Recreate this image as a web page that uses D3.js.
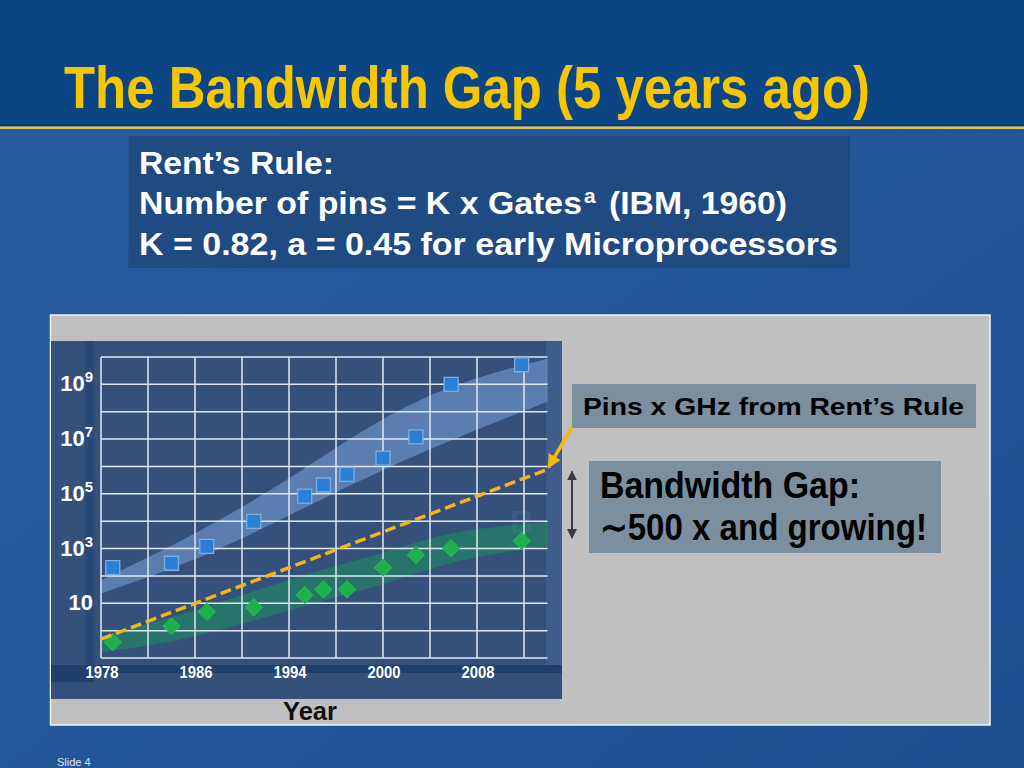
<!DOCTYPE html>
<html>
<head>
<meta charset="utf-8">
<script src="https://cdn.jsdelivr.net/npm/d3@7"></script>
<style>
  body { margin: 0; background: #245697; }
  svg { display: block; font-family: "Liberation Sans", Arial, sans-serif; }
</style>
</head>
<body>
<svg width="1024" height="768"></svg>
<script>
const tickYears = [1978, 1986, 1994, 2000, 2008];
const gridYears = [1978, 1982, 1986, 1990, 1994, 1997, 2000, 2004, 2008, 2012];
const yTicks = [10, 1e3, 1e5, 1e7, 1e9];
const yTickExp = ['', '3', '5', '7', '9'];

// blue squares (gates x GHz) and green diamonds (pins x GHz)
const pointYears = [1979, 1984, 1987, 1991, 1995, 1996.2, 1997.7, 2000, 2002.8, 2005.8, 2011.8];
const squareValues = [200, 290, 1200, 9800, 83000, 210000, 510000, 2.0e6, 1.2e7, 1.0e9, 5.2e9];
const diamondValues = [0.38, 1.45, 4.9, 7.1, 20, 32, 32, 200, 575, 1020, 1900];

// trend bands
const blueBandYears = [1978, 1987, 1995, 2003, 2014];
const blueBandLow = [23, 500, 3.2e4, 3.2e6, 2.3e8];
const blueBandHigh = [70, 5000, 8e5, 5e8, 8.7e9];
const greenBandYears = [1978, 1986, 1994, 2001, 2006.3, 2014];
const greenBandLow = [0.16, 0.5, 6, 60, 420, 1230];
const greenBandHigh = [0.63, 5, 80, 900, 5000, 9300];

// Rent's rule line
const rentYears = [1978, 2014];
const rentValues = [0.49, 7.8e5];

const svg = d3.select('svg');

const defs = svg.append('defs');
const bg = defs.append('linearGradient').attr('id', 'bg')
  .attr('x1', 0).attr('y1', 0).attr('x2', 1).attr('y2', 1);
bg.append('stop').attr('offset', 0).attr('stop-color', '#2a5da1');
bg.append('stop').attr('offset', 0.5).attr('stop-color', '#24569a');
bg.append('stop').attr('offset', 1).attr('stop-color', '#1f4f91');

defs.append('marker').attr('id', 'arrOrange')
  .attr('viewBox', '0 0 10 10').attr('refX', 9).attr('refY', 5)
  .attr('markerWidth', 4).attr('markerHeight', 4).attr('orient', 'auto')
  .append('path').attr('d', 'M0,0L10,5L0,10z').attr('fill', '#f5b80a');
defs.append('marker').attr('id', 'arrGrey')
  .attr('viewBox', '0 0 10 10').attr('refX', 9).attr('refY', 5)
  .attr('markerWidth', 5).attr('markerHeight', 5).attr('orient', 'auto-start-reverse')
  .append('path').attr('d', 'M0,0L10,5L0,10z').attr('fill', '#3a3a3a');

// slide background
svg.append('rect').attr('width', 1024).attr('height', 768).attr('fill', 'url(#bg)');
svg.append('rect').attr('width', 1024).attr('height', 126).attr('fill', '#0b4584');
svg.append('rect').attr('y', 124.5).attr('width', 1024).attr('height', 1.5).attr('fill', '#0a3566');
svg.append('rect').attr('y', 126.5).attr('width', 1024).attr('height', 2.5).attr('fill', '#dcc458');

svg.append('text')
  .attr('x', 64).attr('y', 108)
  .attr('font-size', 60).attr('font-weight', 'bold').attr('fill', '#f6c700')
  .attr('textLength', 806).attr('lengthAdjust', 'spacingAndGlyphs')
  .text('The Bandwidth Gap (5 years ago)');

// Rent's rule box
svg.append('rect').attr('x', 128.5).attr('y', 136).attr('width', 721.5).attr('height', 132)
  .attr('fill', '#1f4a82');
const rent = svg.append('g').attr('fill', '#fff').attr('font-weight', 'bold').attr('font-size', 32);
rent.append('text').attr('x', 139).attr('y', 174)
  .attr('textLength', 195).attr('lengthAdjust', 'spacingAndGlyphs').text('Rent’s Rule:');
rent.append('text').attr('x', 139).attr('y', 214)
  .attr('textLength', 443).attr('lengthAdjust', 'spacingAndGlyphs').text('Number of pins = K x Gates');
rent.append('text').attr('x', 584).attr('y', 203).attr('font-size', 21).text('a');
rent.append('text').attr('x', 609).attr('y', 214)
  .attr('textLength', 178).attr('lengthAdjust', 'spacingAndGlyphs').text('(IBM, 1960)');
rent.append('text').attr('x', 139).attr('y', 255)
  .attr('textLength', 699).attr('lengthAdjust', 'spacingAndGlyphs')
  .text('K = 0.82, a = 0.45 for early Microprocessors');

// grey chart panel
svg.append('rect').attr('x', 50.5).attr('y', 315).attr('width', 939.5).attr('height', 410)
  .attr('fill', '#c0c0c0').attr('stroke', '#eef2f7').attr('stroke-width', 1.5);

// dark plot panel
svg.append('rect').attr('x', 51).attr('y', 341).attr('width', 511).attr('height', 358).attr('fill', '#34507b');
svg.append('rect').attr('x', 546).attr('y', 341).attr('width', 16).attr('height', 324).attr('fill', '#3f5d8a');
svg.append('rect').attr('x', 85).attr('y', 341).attr('width', 9).attr('height', 324).attr('fill', '#294979');
svg.append('rect').attr('x', 51).attr('y', 665).attr('width', 511).attr('height', 8).attr('fill', '#213f6d');
svg.append('rect').attr('x', 51).attr('y', 665).attr('width', 43).attr('height', 17).attr('fill', '#213f6d');

const plotLeft = 101;
const colW = 47;
const x = d3.scaleLinear()
  .domain([1978, 1986, 1994, 2000, 2008, 2014])
  .range([0, 2, 4, 6, 8, 9.5].map(i => plotLeft + i * colW));
const y = d3.scaleLog().domain([0.1, 1e10]).range([658, 357]);

// faint watermark letter
svg.append('text').attr('x', 510).attr('y', 533)
  .attr('font-size', 32).attr('font-weight', 'bold').attr('fill', '#fff').attr('fill-opacity', 0.07)
  .text('B');

const bandArea = (yrs, lo, hi) => d3.area()
  .x(d => x(d))
  .y0((d, i) => y(lo[i]))
  .y1((d, i) => y(hi[i]))
  .curve(d3.curveBasis)(yrs);

svg.append('path').attr('d', bandArea(blueBandYears, blueBandLow, blueBandHigh))
  .attr('fill', 'rgb(140,180,240)').attr('fill-opacity', 0.45);
svg.append('path').attr('d', bandArea(greenBandYears, greenBandLow, greenBandHigh))
  .attr('fill', '#1a9a5a').attr('fill-opacity', 0.5);

// grid
const grid = svg.append('g').attr('stroke', '#dfe7f2').attr('stroke-width', 1.5);
const [xLo, xHi] = [x(1978), x(2014)];
grid.selectAll('line.h')
  .data(d3.range(-1, 11).map(e => Math.pow(10, e)))
  .join('line').attr('class', 'h')
  .attr('x1', xLo).attr('x2', xHi)
  .attr('y1', d => y(d)).attr('y2', d => y(d));
grid.selectAll('line.v')
  .data(gridYears)
  .join('line').attr('class', 'v')
  .attr('x1', d => x(d)).attr('x2', d => x(d))
  .attr('y1', y(1e10)).attr('y2', y(0.1));

// y tick labels
const yl = svg.append('g').attr('fill', '#fff').attr('font-weight', 'bold')
  .attr('text-anchor', 'end');
yTicks.forEach((v, i) => {
  const t = yl.append('text').attr('x', 93).attr('y', y(v) + 7).attr('font-size', 22);
  t.append('tspan').text('10');
  if (yTickExp[i]) {
    t.append('tspan').attr('dy', -9).attr('font-size', 15).text(yTickExp[i]);
  }
});

// x tick labels
svg.append('g').attr('fill', '#fff').attr('font-weight', 'bold').attr('font-size', 16)
  .attr('text-anchor', 'middle')
  .selectAll('text').data(tickYears).join('text')
  .attr('x', d => x(d) + 1).attr('y', 678)
  .attr('textLength', 33).attr('lengthAdjust', 'spacingAndGlyphs')
  .text(d => d);

svg.append('text').attr('x', 310).attr('y', 720)
  .attr('text-anchor', 'middle').attr('font-size', 26).attr('font-weight', 'bold').attr('fill', '#111')
  .attr('textLength', 54).attr('lengthAdjust', 'spacingAndGlyphs')
  .text('Year');

// markers
svg.append('g').selectAll('path').data(pointYears).join('path')
  .attr('transform', (d, i) => `translate(${x(d)},${y(squareValues[i])})`)
  .attr('d', d3.symbol(d3.symbolSquare, 196)())
  .attr('fill', '#2c7fd2').attr('stroke', '#7aaee6').attr('stroke-width', 1.3);

svg.append('g').selectAll('path').data(pointYears).join('path')
  .attr('transform', (d, i) => `translate(${x(d)},${y(diamondValues[i])}) rotate(45)`)
  .attr('d', d3.symbol(d3.symbolSquare, 150)())
  .attr('fill', '#1fb04e').attr('stroke', '#27c25a').attr('stroke-width', 0.8);

// Rent's rule dashed line
svg.append('path')
  .attr('d', d3.line().x(d => x(d)).y((d, i) => y(rentValues[i]))(rentYears))
  .attr('fill', 'none').attr('stroke', '#f4b41a').attr('stroke-width', 3.5)
  .attr('stroke-dasharray', '11,5');

// callout boxes
svg.append('rect').attr('x', 572).attr('y', 384).attr('width', 404).attr('height', 44).attr('fill', '#7b8f9f');
svg.append('text').attr('x', 583).attr('y', 415)
  .attr('font-size', 24).attr('font-weight', 'bold').attr('fill', '#000')
  .attr('textLength', 381).attr('lengthAdjust', 'spacingAndGlyphs')
  .text('Pins x GHz from Rent’s Rule');

svg.append('rect').attr('x', 589).attr('y', 461).attr('width', 352).attr('height', 92).attr('fill', '#7b8f9f');
const gap = svg.append('g').attr('font-size', 37).attr('font-weight', 'bold').attr('fill', '#000');
gap.append('text').attr('x', 600).attr('y', 498)
  .attr('textLength', 260).attr('lengthAdjust', 'spacingAndGlyphs').text('Bandwidth Gap:');
gap.append('text').attr('x', 600).attr('y', 540)
  .attr('textLength', 327).attr('lengthAdjust', 'spacingAndGlyphs').text('∼500 x and growing!');

// arrows
svg.append('line')
  .attr('x1', 572).attr('y1', 427)
  .attr('x2', x(2014) + 1).attr('y2', y(rentValues[1]) - 2)
  .attr('stroke', '#f5b80a').attr('stroke-width', 3.5)
  .attr('marker-end', 'url(#arrOrange)');
svg.append('line')
  .attr('x1', 572).attr('x2', 572)
  .attr('y1', y(rentValues[1]) + 2).attr('y2', y(diamondValues[diamondValues.length - 1]) - 3)
  .attr('stroke', '#3a3a3a').attr('stroke-width', 2)
  .attr('marker-start', 'url(#arrGrey)').attr('marker-end', 'url(#arrGrey)');

svg.append('text').attr('x', 57).attr('y', 766)
  .attr('font-size', 11).attr('fill', '#dfe6f0').text('Slide 4');
</script>
</body>
</html>
